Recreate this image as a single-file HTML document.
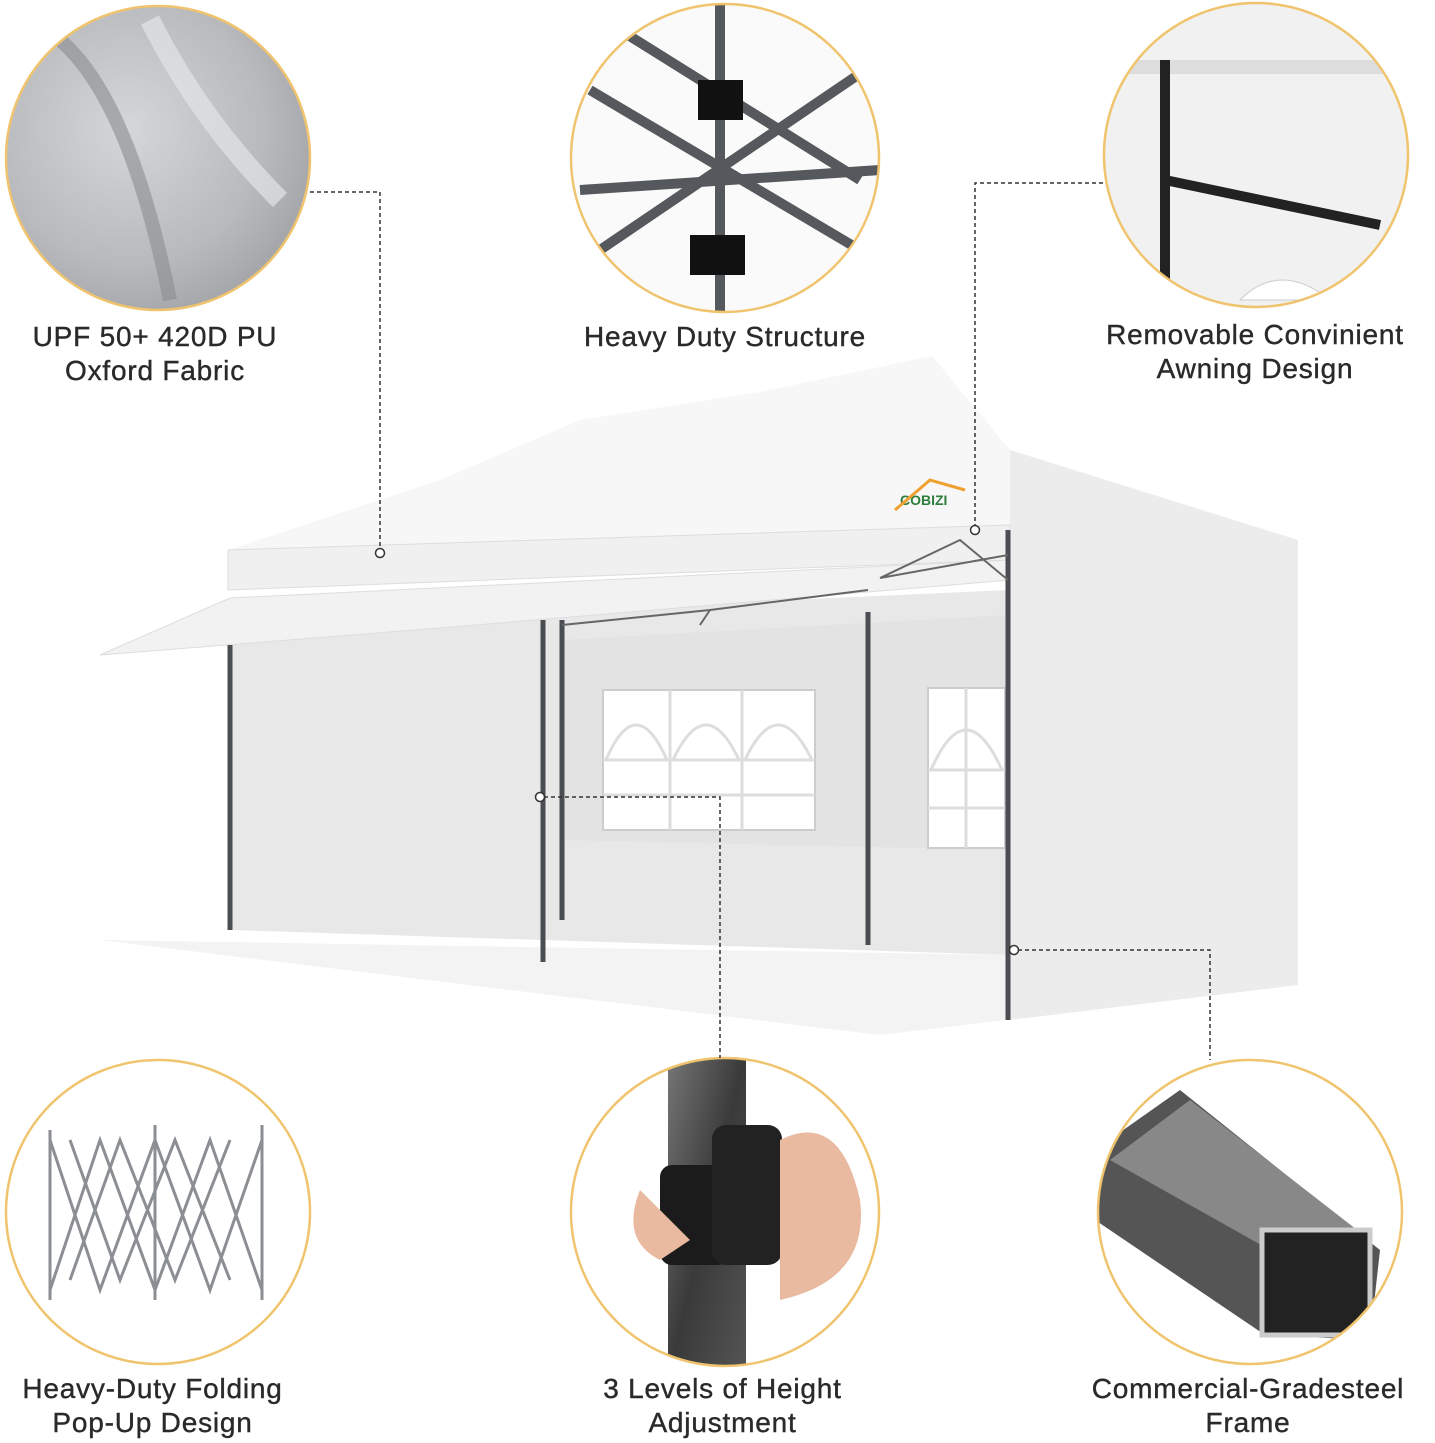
<!DOCTYPE html>
<html><head><meta charset="utf-8"><style>
html,body{margin:0;padding:0;background:#fff;}
body{width:1435px;height:1443px;position:relative;overflow:hidden;font-family:"Liberation Sans",sans-serif;}
.t{position:absolute;text-align:center;color:#2a2a2a;font-size:28px;line-height:34px;letter-spacing:0.8px;-webkit-text-stroke:0.4px #2a2a2a;}
</style></head><body>
<svg width="1435" height="1443" style="position:absolute;left:0;top:0">
<defs>
<radialGradient id="fab" cx="40%" cy="40%" r="70%"><stop offset="0" stop-color="#d4d6d8"/><stop offset="0.6" stop-color="#b8babd"/><stop offset="1" stop-color="#9a9c9f"/></radialGradient>
<linearGradient id="steel" x1="0" y1="0" x2="1" y2="1"><stop offset="0" stop-color="#777"/><stop offset="0.5" stop-color="#3a3a3a"/><stop offset="1" stop-color="#555"/></linearGradient>
<clipPath id="c1"><circle cx="158" cy="158" r="152"/></clipPath>
<clipPath id="c2"><circle cx="725" cy="158" r="154"/></clipPath>
<clipPath id="c3"><circle cx="1256" cy="155" r="152"/></clipPath>
<clipPath id="c4"><circle cx="158" cy="1212" r="152"/></clipPath>
<clipPath id="c5"><circle cx="725" cy="1212" r="154"/></clipPath>
<clipPath id="c6"><circle cx="1250" cy="1212" r="152"/></clipPath>
</defs>
<g clip-path="url(#c1)"><rect x="0" y="0" width="320" height="320" fill="url(#fab)"/>
<path d="M60 40 Q130 100 170 300" stroke="#8a8c8f" stroke-width="14" fill="none" opacity=".6"/>
<path d="M150 20 Q200 120 280 200" stroke="#e2e4e6" stroke-width="20" fill="none" opacity=".7"/></g>
<circle cx="158" cy="158" r="152" fill="none" stroke="#f0c46e" stroke-width="2.5"/>
<g clip-path="url(#c2)"><rect x="560" y="0" width="330" height="320" fill="#fafafa"/>
<g stroke="#55585c" stroke-width="10"><line x1="590" y1="90" x2="860" y2="250"/><line x1="620" y1="30" x2="860" y2="180"/><line x1="720" y1="0" x2="720" y2="320"/><line x1="600" y1="250" x2="880" y2="60"/><line x1="580" y1="190" x2="880" y2="170"/></g>
<rect x="698" y="80" width="45" height="40" fill="#111"/><rect x="690" y="235" width="55" height="40" fill="#111"/></g>
<circle cx="725" cy="158" r="154" fill="none" stroke="#f0c46e" stroke-width="2.5"/>
<g clip-path="url(#c3)"><rect x="1100" y="0" width="320" height="320" fill="#f1f1f1"/>
<rect x="1110" y="60" width="300" height="14" fill="#ddd"/>
<line x1="1165" y1="60" x2="1165" y2="300" stroke="#222" stroke-width="10"/>
<line x1="1165" y1="180" x2="1380" y2="225" stroke="#222" stroke-width="10"/>
<path d="M1240 300 Q1280 260 1330 300Z" fill="#fff" stroke="#ccc"/></g>
<circle cx="1256" cy="155" r="152" fill="none" stroke="#f0c46e" stroke-width="2.5"/>
<g clip-path="url(#c4)"><rect x="0" y="1055" width="320" height="320" fill="#fff"/>
<g stroke="#8b8e92" stroke-width="3" fill="none">
<line x1="50" y1="1130" x2="50" y2="1300"/><line x1="155" y1="1125" x2="155" y2="1300"/><line x1="262" y1="1125" x2="262" y2="1300"/>
<path d="M50 1140 L100 1290 L155 1140 L210 1290 L262 1140 M50 1290 L100 1140 L155 1290 L210 1140 L262 1290"/>
<path d="M70 1140 L120 1280 L175 1140 L230 1280 M70 1280 L120 1140 L175 1280 L230 1140"/></g></g>
<circle cx="158" cy="1212" r="152" fill="none" stroke="#f0c46e" stroke-width="2.5"/>
<g clip-path="url(#c5)"><rect x="560" y="1050" width="330" height="330" fill="#fff"/>
<rect x="668" y="1050" width="78" height="330" fill="url(#steel)"/>
<rect x="660" y="1165" width="70" height="100" rx="12" fill="#1b1b1b"/>
<rect x="712" y="1125" width="70" height="140" rx="14" fill="#222"/>
<path d="M780 1140 Q840 1110 860 1200 Q870 1280 780 1300 Z" fill="#e9b9a0"/>
<path d="M640 1190 Q620 1240 660 1260 L690 1240 Z" fill="#e9b9a0"/></g>
<circle cx="725" cy="1212" r="154" fill="none" stroke="#f0c46e" stroke-width="2.5"/>
<g clip-path="url(#c6)"><rect x="1095" y="1055" width="320" height="320" fill="#fff"/>
<path d="M1095 1150 L1180 1090 L1380 1250 L1370 1340 L1265 1335 L1095 1220Z" fill="#555"/>
<path d="M1110 1160 L1190 1100 L1370 1240 L1270 1250Z" fill="#888"/>
<rect x="1262" y="1230" width="108" height="105" fill="#222" stroke="#ccc" stroke-width="5"/></g>
<circle cx="1250" cy="1212" r="152" fill="none" stroke="#f0c46e" stroke-width="2.5"/>

<polygon points="100,940 1010,955 1298,985 880,1035" fill="#f3f3f3"/>
<polygon points="228,550 440,480 580,420 760,392 932,356 1010,450 1010,525 228,550" fill="#f7f7f7"/>
<polygon points="1010,450 1298,540 1298,985 1010,1020" fill="#ececec"/>
<polygon points="230,625 1010,590 1010,955 230,930" fill="#e8e8e8"/>
<polygon points="560,640 1010,615 1010,850 560,840" fill="#e3e3e3"/>
<polygon points="228,550 1010,525 1010,560 228,590" fill="#f0f0f0" stroke="#ddd"/>
<polygon points="100,655 230,598 1010,560 1010,580 440,628" fill="#f2f2f2" stroke="#ddd"/>
<g fill="#fff" stroke="#ccc" stroke-width="2">
<rect x="603" y="690" width="212" height="140"/><rect x="928" y="688" width="77" height="160"/></g>
<g stroke="#ddd" stroke-width="3" fill="none">
<line x1="670" y1="690" x2="670" y2="830"/><line x1="742" y1="690" x2="742" y2="830"/>
<line x1="603" y1="760" x2="815" y2="760"/><line x1="603" y1="795" x2="815" y2="795"/><line x1="928" y1="770" x2="1005" y2="770"/><line x1="928" y1="808" x2="1005" y2="808"/><line x1="966" y1="688" x2="966" y2="848"/>
<path d="M606 760 Q636 690 667 760 M673 760 Q706 690 739 760 M745 760 Q778 690 812 760 M931 770 Q966 690 1002 770"/></g>
<g stroke="#4a4d52" stroke-width="5">
<line x1="230" y1="645" x2="230" y2="930"/><line x1="543" y1="620" x2="543" y2="962"/><line x1="562" y1="620" x2="562" y2="920"/><line x1="868" y1="612" x2="868" y2="945"/><line x1="1008" y1="530" x2="1008" y2="1020"/></g>
<g stroke="#666" stroke-width="2" fill="none"><path d="M562 625 L710 610 L868 590 M710 610 L700 625 M880 578 L1008 555 M880 578 L960 540 L1008 580"/></g>
<text x="900" y="505" font-family="Liberation Sans" font-weight="bold" font-size="14" fill="#2e7d3a">COBIZI</text>
<path d="M895 510 L930 480 L965 490" stroke="#f0a030" stroke-width="3" fill="none"/>
<g stroke="#333" stroke-width="1.5" stroke-dasharray="4,3" fill="none">
<path d="M310 192 H380 V549"/><path d="M1103 183 H975 V526"/><path d="M544 797 H720 V1058"/><path d="M1018 950 H1210 V1060"/></g>
<g fill="#fff" stroke="#333" stroke-width="1.5"><circle cx="380" cy="553" r="4.5"/><circle cx="975" cy="530" r="4.5"/><circle cx="540" cy="797" r="4.5"/><circle cx="1014" cy="950" r="4.5"/></g>
</svg>
<div class="t" style="left:0;width:310px;top:320px">UPF 50+ 420D PU<br>Oxford Fabric</div>
<div class="t" style="left:520px;width:410px;top:320px">Heavy Duty Structure</div>
<div class="t" style="left:1070px;width:370px;top:318px">Removable Convinient<br>Awning Design</div>
<div class="t" style="left:0;width:305px;top:1372px">Heavy-Duty Folding<br>Pop-Up Design</div>
<div class="t" style="left:560px;width:325px;top:1372px">3 Levels of Height<br>Adjustment</div>
<div class="t" style="left:1058px;width:380px;top:1372px">Commercial-Gradesteel<br>Frame</div>
</body></html>
